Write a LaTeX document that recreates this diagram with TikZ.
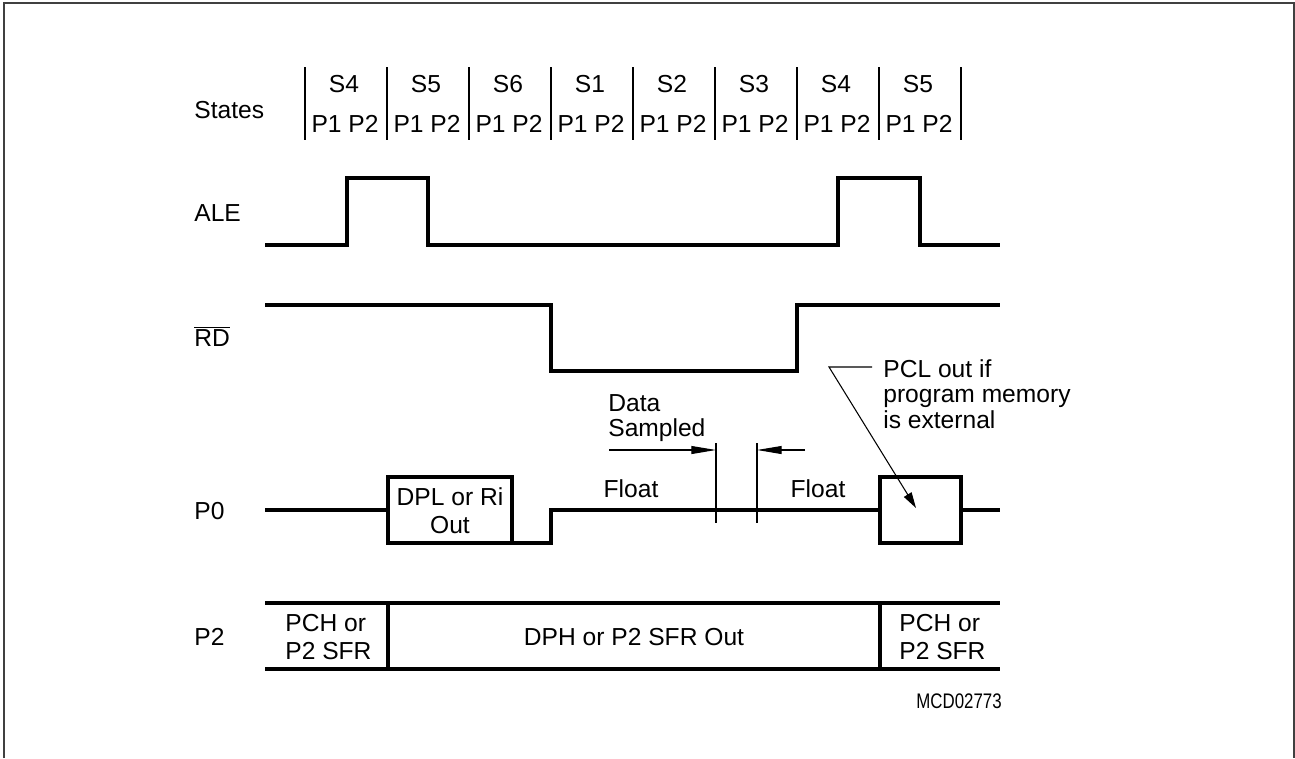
\documentclass[tikz,border=0pt]{standalone}
\usepackage{fontspec}
\setmainfont{Liberation Sans}
\usetikzlibrary{arrows.meta}

\begin{document}
\begin{tikzpicture}[x=0.02cm,y=-0.02cm,
        sig/.style={line width=2pt},
        hair/.style={line width=0.6pt},
        lbl/.style={font=\fontsize{14}{16}\selectfont,inner sep=0pt,text height=10pt,text depth=0pt},
        multi/.style={font=\fontsize{14}{16}\selectfont,inner sep=0pt},
        note/.style={multi,font=\fontsize{14}{14.6}\selectfont,align=left},
        >={Triangle[length=14pt,width=4.5pt]}]

  \useasboundingbox (0,0) rectangle (1295,758);
  \draw[line width=1.1pt,black!75] (4,758) -- (4,3) -- (1294,3) -- (1294,758);

  % state row
  \node[lbl,anchor=west] (states) at (194,110) {States};
  \foreach \x in {305,387,...,961}
    \draw[hair] (\x,67) -- (\x,140);
  \foreach \s [count=\i] in {S4,S5,S6,S1,S2,S3,S4,S5} {
    \node[lbl] (s\i) at ({344+82*(\i-1)},84) {\s};
    \node[lbl] (p\i) at ({345+82*(\i-1)},124) {P1 P2};
  }

  % signal names
  \node[lbl,anchor=west] (ale) at (194,213) {ALE};
  \node[lbl,anchor=west] (rd)  at (194,338) {$\overline{\mbox{RD}}$};
  \node[lbl,anchor=west] (p0)  at (194,511) {P0};
  \node[lbl,anchor=west] (p2)  at (194,637) {P2};

  % ALE and RD
  \draw[sig] (265,245) -- (347,245) -- (347,178) -- (428,178) -- (428,245)
    -- (838,245) -- (838,178) -- (920,178) -- (920,245) -- (1000,245);
  \draw[sig] (265,305) -- (551,305) -- (551,371) -- (797,371) -- (797,305) -- (1000,305);

  % P0
  \draw[sig] (265,510) -- (388,510);
  \draw[sig] (388,477) rectangle (512,543);
  \node[multi,align=center] (dpl) at (450,511) {DPL or Ri\\Out};
  \draw[sig] (512,543) -- (551,543) -- (551,510) -- (880,510);
  \draw[sig] (880,477) rectangle (961,543);
  \draw[sig] (961,510) -- (1000,510);
  \node[lbl] (float1) at (631,489) {Float};
  \node[lbl] (float2) at (818,489) {Float};

  % sampling window
  \draw[hair] (716,443) -- (716,523);
  \draw[hair] (757,443) -- (757,523);
  \coordinate (winL) at (716,450);
  \coordinate (winR) at (757,450);
  \coordinate (fromL) at (609,450);
  \coordinate (fromR) at (805,450);
  \draw[hair,->] (fromL) -- (winL);
  \draw[hair,->] (fromR) -- (winR);
  \node[note,anchor=north west] (data) at (608,394) {Data\\Sampled};

  % PCL note
  \node[note,anchor=north west] (pcl) at (883,359) {PCL out if\\program memory\\is external};
  \coordinate (lead) at (872,367);
  \coordinate (bend) at (829,367);
  \coordinate (tip) at (916,508);
  \draw[hair,-{Triangle[length=9pt,width=5pt]}] (lead) -- (bend) -- (tip);

  % P2
  \draw[sig] (265,603) -- (1000,603);
  \draw[sig] (265,669) -- (1000,669);
  \draw[sig] (388,603) -- (388,669);
  \draw[sig] (880,603) -- (880,669);
  \node[multi,align=left,anchor=west] (pch1) at (285,637) {PCH or\\P2 SFR};
  \node[lbl] (dph) at (634,637) {DPH or P2 SFR Out};
  \node[multi,align=left,anchor=west] (pch2) at (899,637) {PCH or\\P2 SFR};

  \node[lbl,anchor=east,font=\fontsize{12}{14}\selectfont] (mcd) at (1002,700) {\scalebox{0.8}[1]{MCD02773}};

\end{tikzpicture}
\end{document}
